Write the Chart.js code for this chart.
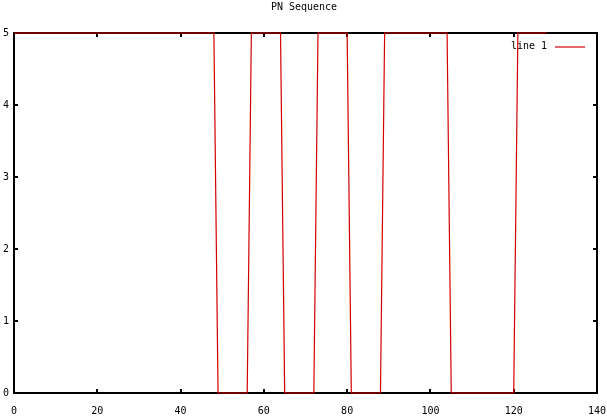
<!DOCTYPE html>
<html>
<head>
<meta charset="utf-8">
<script src="https://cdn.jsdelivr.net/npm/chart.js@4"></script>
<style>
  html, body { margin: 0; padding: 0; background: #fff; }
  #wrap { width: 607px; height: 417px; }
</style>
</head>
<body>
<div id="wrap"><canvas id="pn" width="607" height="417"></canvas></div>
<script>
// ── Data ──
const chartTitle  = 'PN Sequence';
const seriesLabel = 'line 1';
// one level per sample, sample n sits at x = n (0 … 128)
const levels = [
  5,5,5,5,5,5,5,5, 5,5,5,5,5,5,5,5,   // 0-15
  5,5,5,5,5,5,5,5, 5,5,5,5,5,5,5,5,   // 16-31
  5,5,5,5,5,5,5,5, 5,5,5,5,5,5,5,5,   // 32-47
  5,                                  // 48
  0,0,0,0,0,0,0,0,                    // 49-56
  5,5,5,5,5,5,5,5,                    // 57-64
  0,0,0,0,0,0,0,0,                    // 65-72
  5,5,5,5,5,5,5,5,                    // 73-80
  0,0,0,0,0,0,0,0,                    // 81-88
  5,5,5,5,5,5,5,5, 5,5,5,5,5,5,5,5,   // 89-104
  0,0,0,0,0,0,0,0, 0,0,0,0,0,0,0,0,   // 105-120
  5,5,5,5,5,5,5,5                     // 121-128
];
const xTicks = [0, 20, 40, 60, 80, 100, 120, 140];
const yTicks = [0, 1, 2, 3, 4, 5];

const FONT = 'DejaVu Sans Mono';
const RED  = '#d40000';

// ── gnuplot-ish frame: border + inward tics on all four sides ──
const frame = {
  id: 'frame',
  beforeDatasetsDraw(chart) {
    const { ctx, chartArea: a, scales } = chart;
    const tl = 4;
    ctx.save();
    ctx.strokeStyle = '#000';
    ctx.lineWidth = 2;
    ctx.strokeRect(a.left, a.top, a.right - a.left, a.bottom - a.top);
    ctx.beginPath();
    for (const v of xTicks) {
      const px = Math.round(scales.x.getPixelForValue(v));
      if (px <= a.left + 1 || px >= a.right - 1) continue;
      ctx.moveTo(px, a.bottom); ctx.lineTo(px, a.bottom - tl);
      ctx.moveTo(px, a.top);    ctx.lineTo(px, a.top + tl);
    }
    for (const v of yTicks) {
      const py = Math.round(scales.y.getPixelForValue(v));
      if (py <= a.top + 1 || py >= a.bottom - 1) continue;
      ctx.moveTo(a.left, py);  ctx.lineTo(a.left + tl, py);
      ctx.moveTo(a.right, py); ctx.lineTo(a.right - tl, py);
    }
    ctx.stroke();
    ctx.restore();
  },
  afterDraw(chart) {
    const { ctx } = chart;
    ctx.save();
    // title
    ctx.fillStyle = '#000';
    ctx.font = '10px "' + FONT + '"';
    ctx.textAlign = 'center';
    ctx.textBaseline = 'middle';
    ctx.fillText(chartTitle, 304, 7);
    // key, top right inside the plot
    ctx.textAlign = 'right';
    ctx.fillText(seriesLabel, 547, 46);
    ctx.strokeStyle = RED;
    ctx.lineWidth = 1.2;
    ctx.beginPath();
    ctx.moveTo(555, 47); ctx.lineTo(585, 47);
    ctx.stroke();
    ctx.restore();
  }
};

new Chart(document.getElementById('pn'), {
  type: 'line',
  data: {
    datasets: [{
      label: seriesLabel,
      data: levels.map((v, i) => ({ x: i, y: v })),
      borderColor: RED,
      borderWidth: 1.2,
      pointRadius: 0,
      tension: 0,
      fill: false,
      clip: 2
    }]
  },
  options: {
    responsive: false,
    animation: false,
    events: [],
    layout: { padding: { top: 33, right: 10, left: 0, bottom: 0 } },
    plugins: { legend: { display: false }, title: { display: false }, tooltip: { enabled: false } },
    scales: {
      x: {
        type: 'linear', min: 0, max: 140,
        afterBuildTicks: s => { s.ticks = xTicks.map(v => ({ value: v })); },
        afterFit: s => { s.height = 24; s.paddingLeft = 0; s.paddingRight = 0; },
        grid: { display: false, drawTicks: false },
        border: { display: false },
        ticks: { color: '#000', padding: 12, maxRotation: 0, font: { family: FONT, size: 10 } }
      },
      y: {
        type: 'linear', min: 0, max: 5,
        afterBuildTicks: s => { s.ticks = yTicks.map(v => ({ value: v })); },
        afterFit: s => { s.width = 14; s.paddingTop = 0; s.paddingBottom = 0; },
        grid: { display: false, drawTicks: false },
        border: { display: false },
        ticks: { color: '#000', padding: 5, font: { family: FONT, size: 10 } }
      }
    }
  },
  plugins: [frame]
});
</script>
</body>
</html>
